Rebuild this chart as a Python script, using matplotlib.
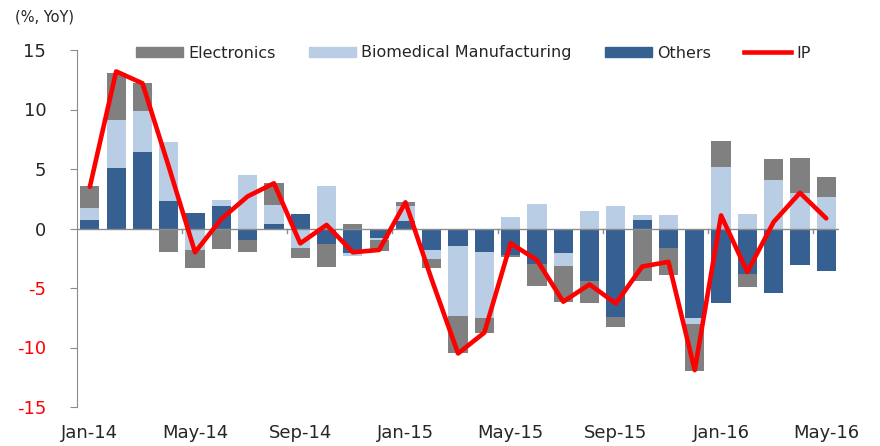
import numpy as np
import matplotlib
matplotlib.use("Agg")
import matplotlib.pyplot as plt
from matplotlib.patches import Patch
from matplotlib.lines import Line2D

# --- Data (% YoY contributions) ---
months = ["Jan-14", "Feb-14", "Mar-14", "Apr-14", "May-14", "Jun-14", "Jul-14",
          "Aug-14", "Sep-14", "Oct-14", "Nov-14", "Dec-14", "Jan-15", "Feb-15",
          "Mar-15", "Apr-15", "May-15", "Jun-15", "Jul-15", "Aug-15", "Sep-15",
          "Oct-15", "Nov-15", "Dec-15", "Jan-16", "Feb-16", "Mar-16", "Apr-16",
          "May-16"]
others = [0.7, 5.1, 6.4, 2.3, 1.3, 1.9, -1.0, 0.35, 1.2, -1.3, -2.1, -0.8, 0.6,
          -1.8, -1.45, -2.0, -2.25, -3.0, -2.1, -4.45, -7.4, 0.7, -1.6, -7.5,
          -6.25, -3.8, -5.4, -3.1, -3.55]
biomedical = [1.0, 4.0, 3.5, 5.0, -1.8, 0.5, 4.5, 1.65, -1.6, 3.55, -0.2, -0.15,
              1.3, -0.8, -5.9, -5.55, 1.0, 2.1, -1.05, 1.5, 1.9, 0.4, 1.1, -0.55,
              5.2, 1.25, 4.1, 3.0, 2.65]
electronics = [1.9, 4.0, 2.3, -2.0, -1.5, -1.7, -1.0, 1.85, -0.9, -1.95, 0.35,
               -0.95, 0.3, -0.75, -3.15, -1.2, -0.15, -1.8, -3.05, -1.8, -0.85,
               -4.45, -2.3, -3.9, 2.15, -1.1, 1.75, 2.95, 1.65]
ip = [3.5, 13.2, 12.2, 5.2, -2.0, 0.8, 2.7, 3.8, -1.25, 0.3, -2.0, -1.8, 2.2,
      -4.3, -10.5, -8.75, -1.25, -2.65, -6.15, -4.7, -6.3, -3.2, -2.8, -11.9,
      1.1, -3.65, 0.55, 3.0, 0.85]
tick_every = 4
yticks = [15, 10, 5, 0, -5, -10, -15]

# --- Style ---
C_ELEC = "#808080"
C_BIO = "#B9CDE5"
C_OTH = "#376092"
C_IP = "#FF0000"
C_AXIS = "#8C8C8C"

plt.rcParams["font.family"] = ["DejaVu Sans"]

fig = plt.figure(figsize=(8.8, 4.46), dpi=100)
ax = fig.add_axes([76.7 / 880, 39 / 446, (839.4 - 76.7) / 880, 357 / 446])

x = np.arange(len(months))
width = 0.73

# stack positives upward and negatives downward (others, bio, electronics)
pos_base = np.zeros(len(months))
neg_base = np.zeros(len(months))
for vals, color in [(others, C_OTH), (biomedical, C_BIO), (electronics, C_ELEC)]:
    v = np.array(vals)
    bottom = np.where(v >= 0, pos_base, neg_base)
    ax.bar(x, v, width, bottom=bottom, color=color, linewidth=0, zorder=2)
    pos_base = pos_base + np.where(v >= 0, v, 0)
    neg_base = neg_base + np.where(v < 0, v, 0)

ax.plot(x, ip, color=C_IP, lw=3.3, solid_joinstyle="round",
        solid_capstyle="round", zorder=4)

# axes
ax.set_xlim(-0.5, len(months) - 0.5)
ax.set_ylim(-15, 15)
ax.axhline(0, color=C_AXIS, lw=1.0, zorder=3)
for b in np.arange(tick_every - 0.5, len(months) - 1, tick_every):
    ax.plot([b, b], [0, -0.35], color=C_AXIS, lw=1.0, zorder=3)

for s in ["top", "right", "bottom"]:
    ax.spines[s].set_visible(False)
ax.spines["left"].set_color(C_AXIS)

ax.set_yticks(yticks)
ax.set_yticklabels([str(t) for t in yticks], fontsize=13)
for lab, t in zip(ax.get_yticklabels(), yticks):
    lab.set_color("#FF0000" if t < 0 else "#262626")
ax.tick_params(axis="y", length=5, color=C_AXIS, pad=17)

ax.set_xticks(x[::tick_every])
ax.set_xticklabels(months[::tick_every], fontsize=13, color="#262626")
ax.tick_params(axis="x", length=0, pad=12)

fig.text(15 / 880, 1 - 17 / 446, "(%, YoY)", fontsize=10.5, color="#262626",
         va="center", ha="left")

handles = [Patch(color=C_ELEC), Patch(color=C_BIO), Patch(color=C_OTH),
           Line2D([], [], color=C_IP, lw=3.3)]
labels = ["Electronics", "Biomedical Manufacturing", "Others", "IP"]
fig.legend(handles, labels, ncol=4, loc="center left",
           bbox_to_anchor=(136 / 880, 1 - 53 / 446), frameon=False,
           fontsize=11.5, handlelength=2.95, handleheight=0.65,
           handletextpad=0.3, columnspacing=2.1, borderpad=0,
           borderaxespad=0, labelcolor="#262626")

fig.savefig("out.png", dpi=100)
